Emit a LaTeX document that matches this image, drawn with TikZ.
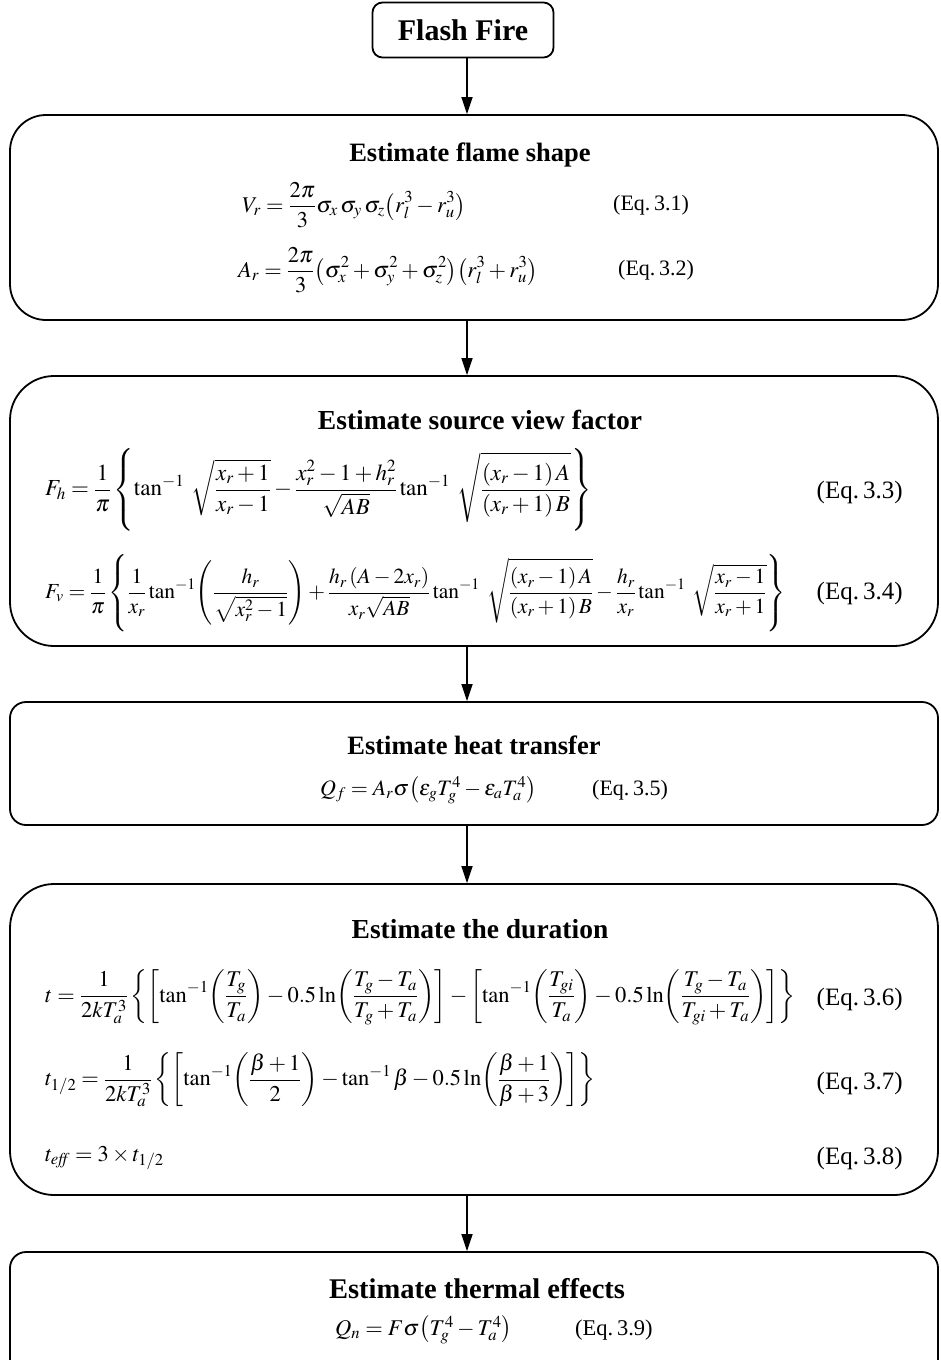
\documentclass[tikz,border=0pt]{standalone}
\usepackage{mathptmx}
\usepackage[no-math]{fontspec}
\setmainfont{Liberation Serif}
\usetikzlibrary{arrows.meta}
\newcommand{\fs}[1]{\fontsize{#1}{#1}\selectfont}
\begin{document}
\begin{tikzpicture}[x=1pt,y=-1pt,
  stepbox/.style={draw, line width=1.8pt, minimum width=928pt, inner sep=0pt},
  ttl/.style={font=\fs{27.5}\bfseries, inner sep=0pt},
  eq/.style={inner sep=0pt},
  flow/.style={line width=1.6pt, -{Triangle[length=17pt,width=11pt]}}]
\useasboundingbox (0,0) rectangle (940,1360);
\coordinate (ax) at (467,0);
% Flash Fire
\node[draw, line width=1.8pt, rounded corners=10pt, minimum width=181pt, minimum height=55pt,
      font=\fs{30}\bfseries] (ff) at (463,30) {Flash Fire};
% Boxes
\node[stepbox, rounded corners=36pt, minimum height=205pt] (b2) at (474,217.5) {};
\node[stepbox, rounded corners=44pt, minimum height=270pt] (b3) at (474,511) {};
\node[stepbox, rounded corners=16pt, minimum height=123pt] (b4) at (474,763.5) {};
\node[stepbox, rounded corners=44pt, minimum height=311pt] (b5) at (474,1039.5) {};
\node[stepbox, rounded corners=16pt, minimum height=130pt] (b6) at (474,1317) {};
% Arrows
\draw[flow] (ff.south -| ax) -- (b2.north -| ax);
\draw[flow] (b2.south -| ax) -- (b3.north -| ax);
\draw[flow] (b3.south -| ax) -- (b4.north -| ax);
\draw[flow] (b4.south -| ax) -- (b5.north -| ax);
\draw[flow] (b5.south -| ax) -- (b6.north -| ax);
% Box 2
\node[ttl, font=\fs{26.5}\bfseries] (t2) at (470,155) {Estimate flame shape};
\node[eq, anchor=west, font=\fs{22.5}] (e31) at (242,205) {$\displaystyle V_r=\frac{2\pi}{3}\sigma_x\,\sigma_y\,\sigma_z{\left(r_l^3-r_u^3\right)}$};
\node[eq, anchor=west, font=\fs{22}] (l31) at (613,205) {(Eq.\,3.1)};
\node[eq, anchor=west, font=\fs{22.5}] (e32) at (238,270) {$\displaystyle A_r=\frac{2\pi}{3}{\left(\sigma_x^2+\sigma_y^2+\sigma_z^2\right)}{\left(r_l^3+r_u^3\right)}$};
\node[eq, anchor=west, font=\fs{22}] (l32) at (618,270) {(Eq.\,3.2)};
% Box 3
\node[ttl] (t3) at (480,420) {Estimate source view factor};
\node[eq, anchor=west, font=\fs{23}] (e33) at (45,490) {$\displaystyle F_h=\frac{1}{\pi}\left\{\tan^{-1}\;\sqrt{\frac{x_r+1}{x_r-1}}-\frac{x_r^2-1+h_r^2}{\sqrt{AB}}\tan^{-1}\;\sqrt{\frac{\left(x_r-1\right)A}{\left(x_r+1\right)B}}\right\}$};
\node[eq, anchor=east, font=\fs{25}] (l33) at (903,492) {(Eq.\,3.3)};
\node[eq, anchor=west, font=\fs{21.5}] (e34) at (45,593) {$\displaystyle F_v=\frac{1}{\pi}\left\{\frac{1}{x_r}\tan^{-1}\!\left(\frac{h_r}{\sqrt{x_r^2-1}}\right)+\frac{h_r\left(A-2x_r\right)}{x_r\sqrt{AB}}\tan^{-1}\;\sqrt{\frac{\left(x_r-1\right)A}{\left(x_r+1\right)B}}-\frac{h_r}{x_r}\tan^{-1}\;\sqrt{\frac{x_r-1}{x_r+1}}\right\}$};
\node[eq, anchor=east, font=\fs{25}] (l34) at (903,593) {(Eq.\,3.4)};
% Box 4
\node[ttl, font=\fs{26.5}\bfseries] (t4) at (474,745) {Estimate heat transfer};
\node[eq, anchor=west, font=\fs{22}] (e35) at (320,790) {$Q_f=A_r\sigma{\left(\varepsilon_g T_g^4-\varepsilon_a T_a^4\right)}$};
\node[eq, anchor=west, font=\fs{22}] (l35) at (592,790) {(Eq.\,3.5)};
% Box 5
\node[ttl] (t5) at (480,929) {Estimate the duration};
\node[eq, anchor=west, font=\fs{22.5}] (e36) at (45,997) {$\displaystyle t=\frac{1}{2kT_a^3}\left\{\left[\tan^{-1}\!\left(\frac{T_g}{T_a}\right)-0.5\ln\!\left(\frac{T_g-T_a}{T_g+T_a}\right)\right]-\left[\tan^{-1}\!\left(\frac{T_{gi}}{T_a}\right)-0.5\ln\!\left(\frac{T_g-T_a}{T_{gi}+T_a}\right)\right]\right\}$};
\node[eq, anchor=east, font=\fs{25}] (l36) at (903,999) {(Eq.\,3.6)};
\node[eq, anchor=west, font=\fs{22.5}] (e37) at (45,1080) {$\displaystyle t_{1/2}=\frac{1}{2kT_a^3}\left\{\left[\tan^{-1}\!\left(\frac{\beta+1}{2}\right)-\tan^{-1}\beta-0.5\ln\!\left(\frac{\beta+1}{\beta+3}\right)\right]\right\}$};
\node[eq, anchor=east, font=\fs{25}] (l37) at (903,1083) {(Eq.\,3.7)};
\node[eq, anchor=west, font=\fs{22.5}] (e38) at (45,1158) {$t_{\mathit{eff}}=3\times t_{1/2}$};
\node[eq, anchor=east, font=\fs{25}] (l38) at (903,1158) {(Eq.\,3.8)};
% Box 6
\node[ttl, font=\fs{28.5}\bfseries] (t6) at (477,1289) {Estimate thermal effects};
\node[eq, anchor=west, font=\fs{22.5}] (e39) at (335,1330) {$Q_n=F\sigma{\left(T_g^4-T_a^4\right)}$};
\node[eq, anchor=west, font=\fs{22.5}] (l39) at (575,1330) {(Eq.\,3.9)};
\end{tikzpicture}
\end{document}
